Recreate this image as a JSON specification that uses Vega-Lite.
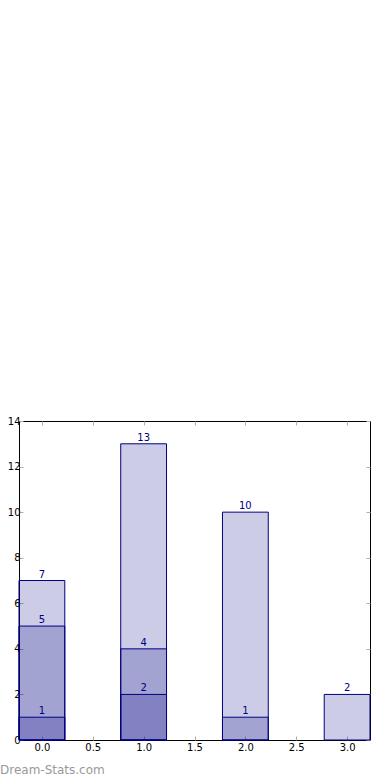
{
  "$schema": "https://vega.github.io/schema/vega-lite/v6.json",
  "width": 351,
  "height": 319,
  "autosize": {"type": "none"},
  "padding": {"left": 19, "top": 421, "right": 20, "bottom": 40},
  "background": "white",
  "config": {
    "view": {"stroke": "black", "strokeWidth": 1},
    "axis": {
      "domain": false,
      "grid": false,
      "tickColor": "#b0b0b0",
      "tickSize": -4,
      "tickWidth": 1,
      "labelColor": "black",
      "labelFont": "DejaVu Sans",
      "labelFontSize": 10,
      "labelPadding": 3,
      "title": null
    }
  },
  "title": {
    "text": "Dream-Stats.com",
    "orient": "bottom",
    "anchor": "start",
    "frame": "group",
    "dx": -19,
    "offset": 13,
    "font": "DejaVu Sans",
    "fontSize": 12,
    "fontWeight": "normal",
    "color": "#999999"
  },
  "data": {
    "values": [
      {"x": 0, "value": 7},
      {"x": 0, "value": 5},
      {"x": 0, "value": 1},
      {"x": 1, "value": 13},
      {"x": 1, "value": 4},
      {"x": 1, "value": 2},
      {"x": 2, "value": 10},
      {"x": 2, "value": 1},
      {"x": 3, "value": 2}
    ]
  },
  "resolve": {"axis": {"x": "independent", "y": "independent"}},
  "layer": [
    {
      "mark": {"type": "bar", "width": 45.8, "fill": "#000080", "fillOpacity": 0.2, "stroke": "#000080", "strokeWidth": 1},
      "encoding": {
        "x": {"field": "x", "type": "quantitative", "scale": {"domain": [-0.225, 3.225], "nice": false, "zero": false, "padding": 0},
          "axis": {"orient": "bottom", "values": [0, 0.5, 1, 1.5, 2, 2.5, 3], "format": ".1f", "labelPadding": 6}},
        "y": {"field": "value", "type": "quantitative", "stack": null, "scale": {"domain": [0, 14], "nice": false},
          "axis": {"orient": "left", "values": [0, 2, 4, 6, 8, 10, 12, 14], "format": "d"}}
      }
    },
    {
      "mark": {"type": "text", "baseline": "bottom", "dy": -1, "color": "#000080", "font": "DejaVu Sans", "fontSize": 10},
      "encoding": {
        "x": {"field": "x", "type": "quantitative", "scale": {"domain": [-0.225, 3.225], "nice": false, "zero": false, "padding": 0},
          "axis": {"orient": "top", "values": [0, 0.5, 1, 1.5, 2, 2.5, 3], "labels": false}},
        "y": {"field": "value", "type": "quantitative", "stack": null, "scale": {"domain": [0, 14], "nice": false},
          "axis": {"orient": "right", "values": [0, 2, 4, 6, 8, 10, 12, 14], "labels": false}},
        "text": {"field": "value", "type": "quantitative"}
      }
    }
  ]
}
